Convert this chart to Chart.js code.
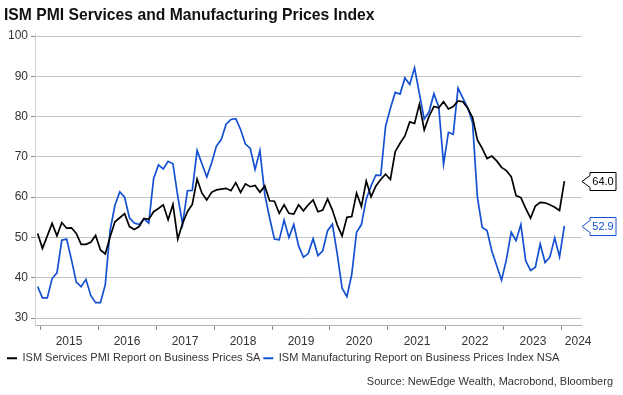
<!DOCTYPE html>
<html>
<head>
<meta charset="utf-8">
<script src="https://cdn.jsdelivr.net/npm/chart.js@4.4.1/dist/chart.umd.min.js"></script>
<style>
  html, body { margin: 0; padding: 0; background: #fff; }
  #wrap { width: 623px; height: 395px; position: relative; }
</style>
</head>
<body>
<div id="wrap"><canvas id="pricesChart"></canvas></div>
<script>
const chartTitle = 'ISM PMI Services and Manufacturing Prices Index';
const sourceText = 'Source: NewEdge Wealth, Macrobond, Bloomberg';
const seriesNames = [
  'ISM Services PMI Report on Business Prices SA',
  'ISM Manufacturing Report on Business Prices Index NSA'
];
const seriesColors = ['#000000', '#1450d2'];

// monthly, Dec 2014 .. Jan 2024
const firstMonth = [2014, 12];
const services = [
  51.0, 47.3, 50.4, 53.5, 50.4, 53.7, 52.3, 52.4, 51.0, 48.3, 48.3, 48.8,
  50.5, 46.9, 45.9, 50.2, 53.9, 54.9, 55.9, 52.7, 52.0, 52.7, 54.7, 54.5,
  56.4, 57.2, 58.1, 54.4, 58.2, 49.6, 53.5, 56.4, 58.2, 64.5, 61.0, 59.3,
  61.2, 61.8, 62.0, 62.2, 61.6, 63.6, 61.2, 63.3, 62.6, 62.9, 61.2, 62.8,
  59.1, 59.0, 56.0, 58.1, 56.0, 55.8, 58.1, 56.6, 58.1, 59.3, 56.4, 56.8,
  59.6, 56.8, 53.1, 50.4, 55.0, 55.2, 61.0, 57.7, 64.0, 60.1, 62.8, 64.4,
  65.7, 64.4, 71.3, 73.4, 75.2, 78.7, 78.3, 83.1, 76.7, 80.1, 82.5, 82.2,
  83.7, 81.9, 82.5, 83.9, 83.7, 82.1, 79.8, 74.2, 72.1, 69.6, 70.2, 69.0,
  67.4, 66.6, 65.1, 60.4, 59.9, 57.2, 54.8, 57.8, 58.7, 58.6, 58.1, 57.5,
  56.7, 64.0
];
const manufacturing = [
  37.8, 35.0, 35.0, 39.8, 41.2, 49.3, 49.6, 44.5, 38.9, 37.8, 39.6, 35.6,
  33.8, 33.8, 38.3, 51.8, 58.0, 61.3, 60.0, 54.9, 53.6, 53.2, 54.6, 53.6,
  64.6, 68.0, 67.0, 68.9, 68.3, 60.2, 53.3, 61.6, 61.7, 71.6, 68.3, 65.0,
  68.5, 72.7, 74.3, 78.1, 79.3, 79.5, 76.8, 73.2, 72.1, 66.9, 71.6, 60.7,
  54.9, 49.6, 49.4, 54.3, 50.0, 53.2, 47.9, 45.1, 46.0, 49.7, 45.5, 46.7,
  51.7, 53.3, 45.9, 37.4, 35.3, 40.8, 51.3, 53.2, 59.5, 62.8, 65.5, 65.4,
  77.6, 82.1, 86.0, 85.6, 89.6, 88.0, 92.1, 85.7, 79.4, 81.2, 85.7, 82.4,
  68.2, 76.1, 75.6, 87.1, 84.6, 82.2, 78.5, 60.0, 52.5, 51.7, 46.6, 43.0,
  39.4, 44.5, 51.3, 49.2, 53.2, 44.2, 41.8, 42.6, 48.4, 43.8, 45.1, 49.9,
  45.2, 52.9
];
const yearLabels = ['2015', '2016', '2017', '2018', '2019', '2020', '2021', '2022', '2023', '2024'];
const yTicks = [30, 40, 50, 60, 70, 80, 90, 100];

// x as decimal years, each month plotted at mid-month
const toPoints = vals => vals.map((v, i) => {
  const m = firstMonth[1] - 1 + i;
  return { x: firstMonth[0] + Math.floor(m / 12) + ((m % 12) + 0.5) / 12, y: v };
});

const xMin = 2014.913, xMax = 2024.337;
const yearTicks = yearLabels.map(Number);
const labelPos = yearTicks.map((y, i) => i < yearTicks.length - 1 ? y + 0.5 : y + 0.28);

Chart.defaults.font.family = '"Liberation Sans", Arial, sans-serif';
Chart.defaults.font.size = 12;
Chart.defaults.color = '#333';

const lastValueTags = {
  id: 'lastValueTags',
  afterDatasetsDraw(chart) {
    const { ctx, chartArea } = chart;
    const yScale = chart.scales.y;
    chart.data.datasets.forEach(ds => {
      const v = ds.data[ds.data.length - 1].y;
      const py = Math.round(yScale.getPixelForValue(v)) + 0.5;
      const tip = chartArea.right + 0.5;
      const left = tip + 8, right = tip + 34, half = 9;
      ctx.save();
      ctx.beginPath();
      ctx.moveTo(tip, py);
      ctx.lineTo(left, py - 6);
      ctx.lineTo(left, py - half);
      ctx.lineTo(right, py - half);
      ctx.lineTo(right, py + half);
      ctx.lineTo(left, py + half);
      ctx.lineTo(left, py + 6);
      ctx.closePath();
      ctx.fillStyle = '#fff';
      ctx.fill();
      ctx.strokeStyle = ds.borderColor;
      ctx.lineWidth = 1;
      ctx.stroke();
      ctx.fillStyle = ds.borderColor;
      ctx.font = '11px "Liberation Sans", Arial, sans-serif';
      ctx.textAlign = 'center';
      ctx.textBaseline = 'middle';
      ctx.fillText(v.toFixed(1), (left + right) / 2, py + 0.5);
      ctx.restore();
    });
  }
};

const ctx = document.getElementById('pricesChart').getContext('2d');
new Chart(ctx, {
  type: 'line',
  data: {
    datasets: [
      {
        label: seriesNames[0],
        data: toPoints(services),
        borderColor: seriesColors[0],
        backgroundColor: seriesColors[0],
        borderWidth: 1.7,
        pointRadius: 0,
        tension: 0
      },
      {
        label: seriesNames[1],
        data: toPoints(manufacturing),
        borderColor: seriesColors[1],
        backgroundColor: seriesColors[1],
        borderWidth: 1.7,
        pointRadius: 0,
        tension: 0
      }
    ]
  },
  options: {
    responsive: true,
    maintainAspectRatio: false,
    animation: false,
    layout: { padding: { left: 4, right: 10, top: 0, bottom: 0 } },
    scales: {
      x: {
        type: 'linear',
        min: xMin,
        max: xMax,
        afterBuildTicks: scale => {
          scale.ticks = yearTicks.concat(labelPos).sort((a, b) => a - b).map(v => ({ value: v }));
        },
        afterFit: scale => { scale.height = 24.8; },
        ticks: {
          autoSkip: false,
          maxRotation: 0,
          padding: 4,
          color: '#333',
          callback: value => {
            const k = labelPos.findIndex(p => Math.abs(p - value) < 1e-6);
            return k >= 0 ? yearLabels[k] : '';
          }
        },
        grid: {
          drawOnChartArea: false,
          drawTicks: true,
          tickLength: 5,
          tickColor: c => (c.tick && Number.isInteger(c.tick.value)) ? '#8a8a8a' : 'rgba(0,0,0,0)'
        },
        border: { display: true, color: '#b0b0b0' }
      },
      y: {
        min: 28.27,
        max: 100.5,
        afterBuildTicks: scale => { scale.ticks = yTicks.map(v => ({ value: v })); },
        afterFit: scale => { scale.width = 31; },
        ticks: { padding: 3, color: '#333' },
        grid: { color: '#c4c4c4', tickColor: '#8a8a8a', tickLength: 4 },
        border: { display: true, color: '#cfcfcf' }
      },
      yRight: {
        position: 'right',
        display: true,
        afterFit: scale => { scale.width = 31.5; },
        ticks: { display: false },
        grid: { display: false, drawTicks: false },
        border: { display: false }
      }
    },
    plugins: {
      title: {
        display: true,
        text: chartTitle,
        align: 'start',
        color: '#111',
        font: { size: 15.7, weight: 'bold' },
        padding: { top: 6, bottom: 9.2 }
      },
      subtitle: {
        display: true,
        text: sourceText,
        position: 'bottom',
        align: 'end',
        color: '#333',
        font: { size: 11 },
        padding: { top: 2, bottom: 6 }
      },
      legend: {
        position: 'bottom',
        align: 'start',
        labels: {
          boxWidth: 10,
          boxHeight: 2,
          padding: 3,
          color: '#333',
          font: { size: 11 },
          generateLabels: chart => Chart.defaults.plugins.legend.labels.generateLabels(chart)
            .map(l => Object.assign(l, { lineWidth: 0, fillStyle: l.strokeStyle }))
        }
      },
      tooltip: { enabled: false }
    }
  },
  plugins: [lastValueTags]
});
</script>
</body>
</html>
